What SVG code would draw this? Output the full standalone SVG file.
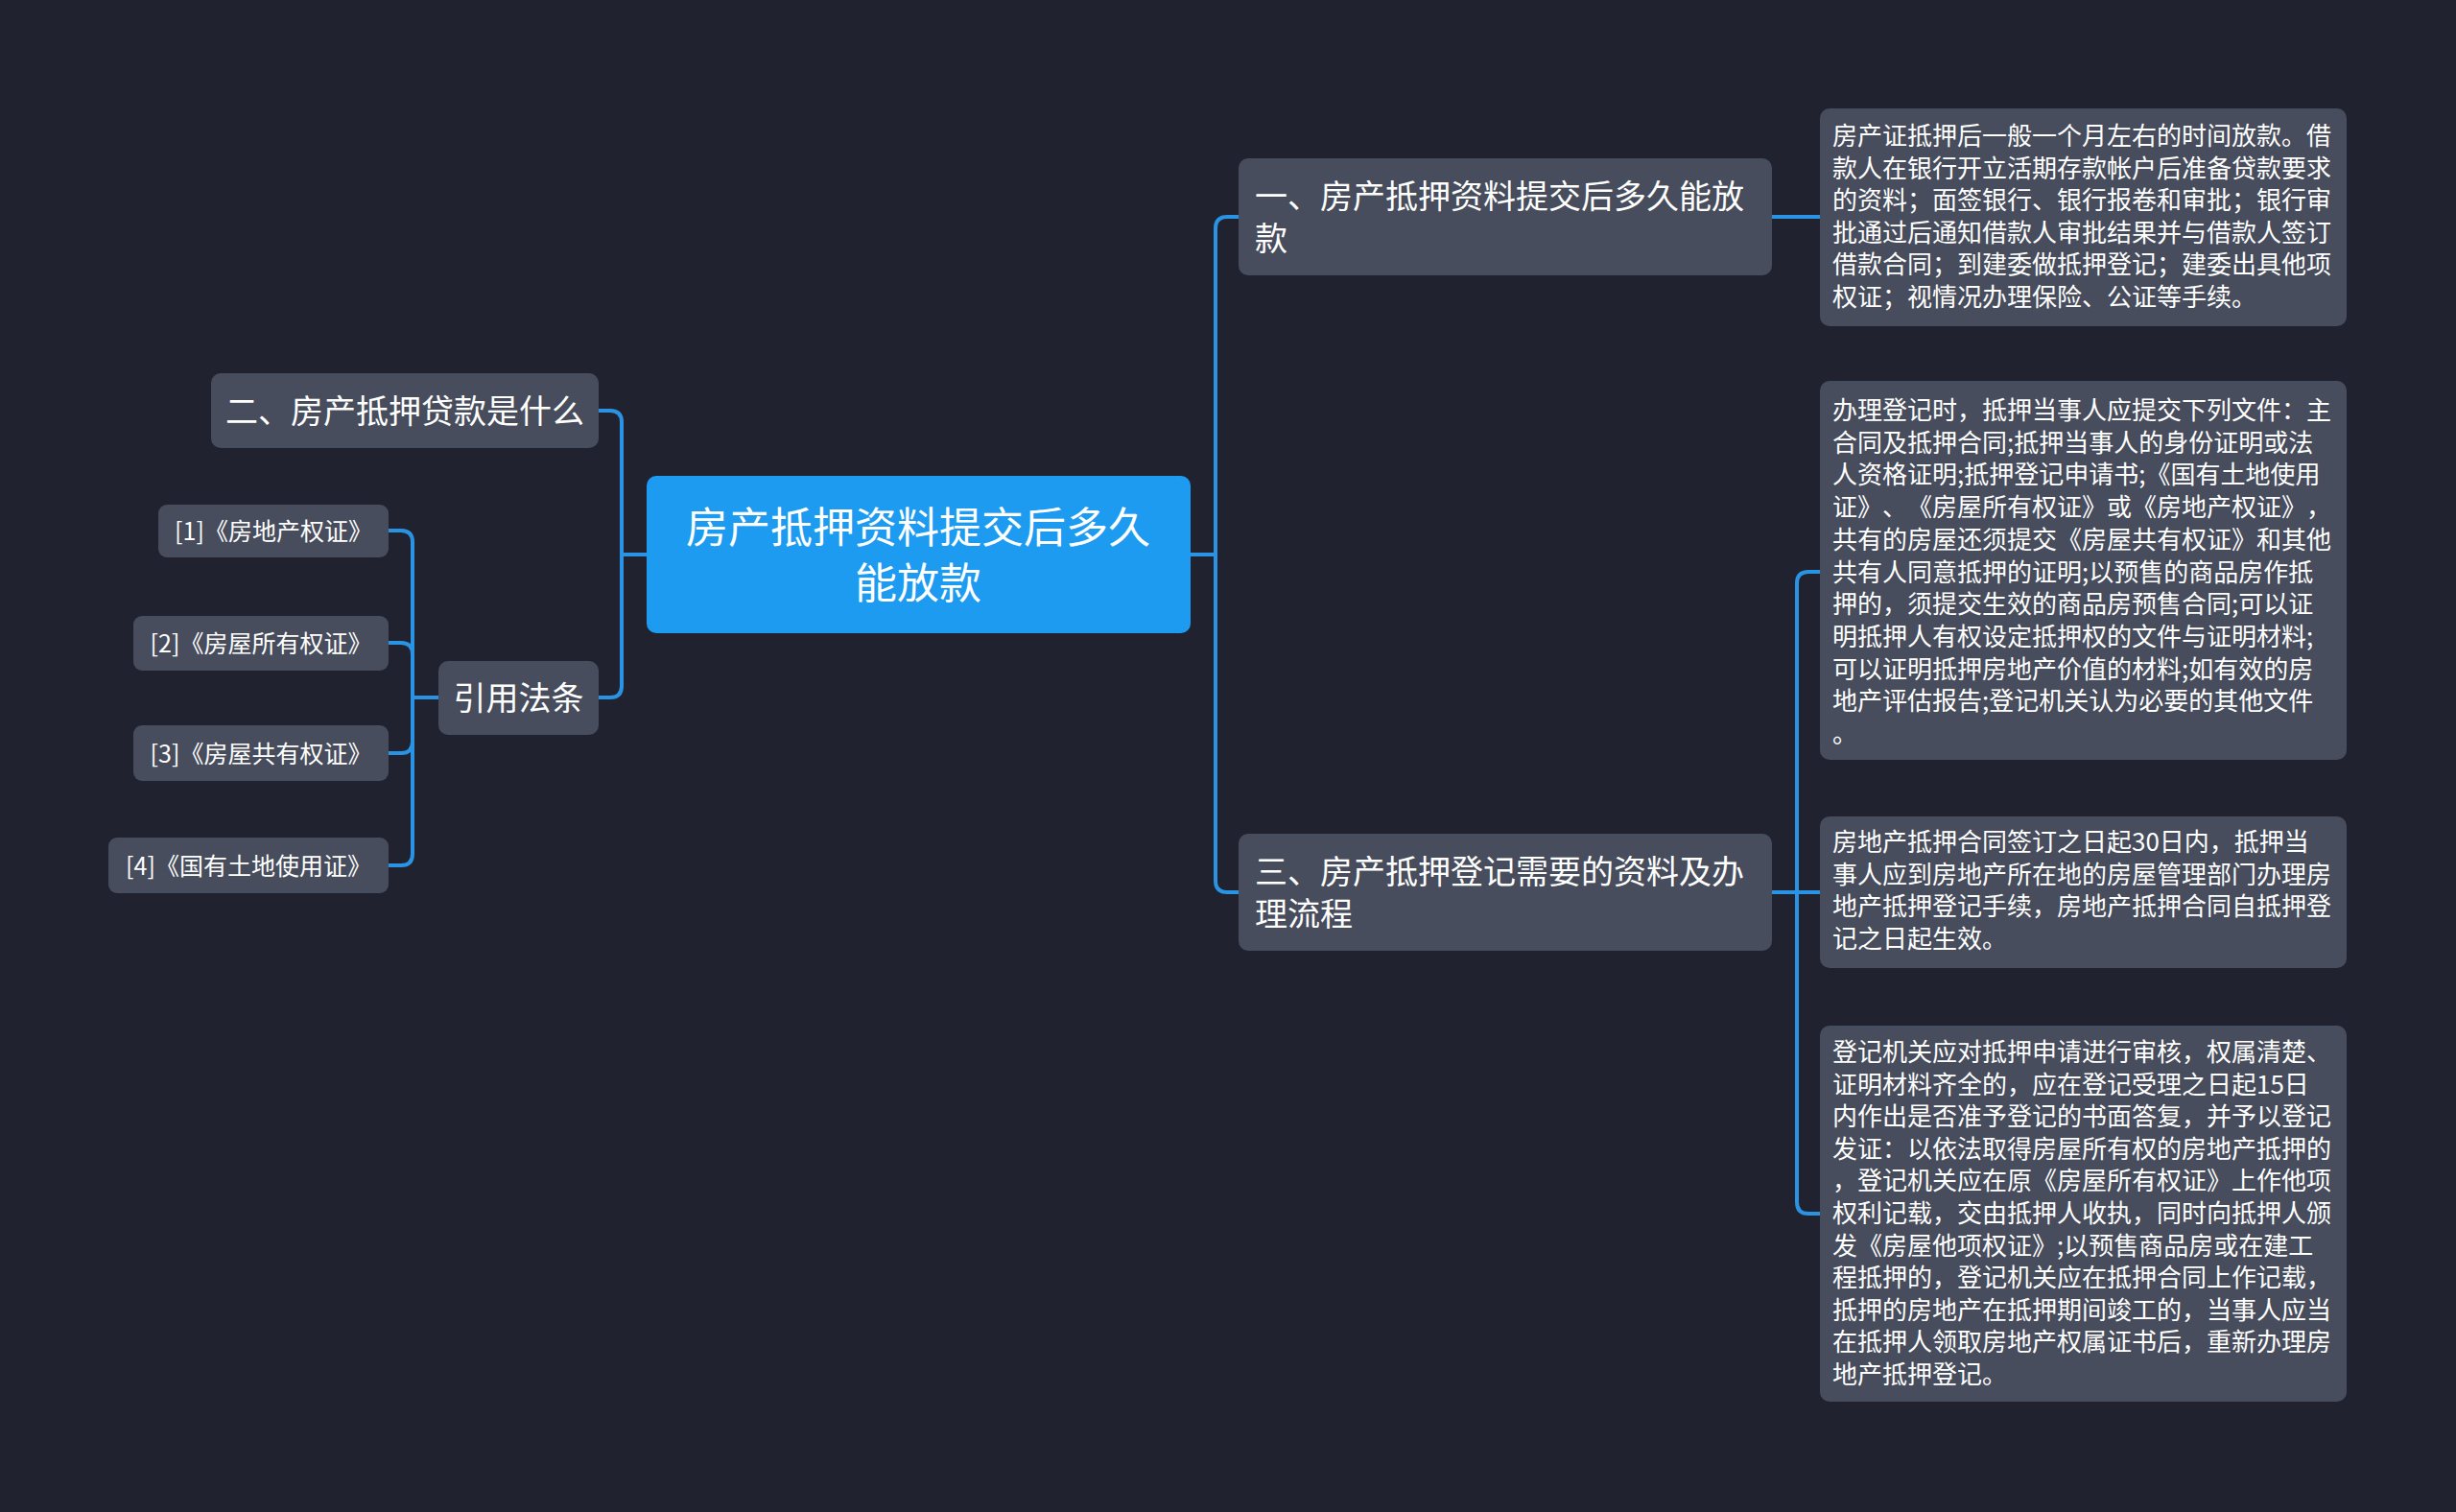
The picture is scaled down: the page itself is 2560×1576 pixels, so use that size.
<svg xmlns="http://www.w3.org/2000/svg" width="2560" height="1576" viewBox="0 0 2560 1576">
<style>
.bg{fill:#20232f}
.node{fill:#474d5c}
.root{fill:#1d9bf0}
.t{font-family:"Noto Sans CJK SC","Noto Sans",sans-serif;fill:#ffffff;text-spacing-trim:space-all}
.t25{font-size:25px}
.t26{font-size:26px}
.t34{font-size:34px}
.t44{font-size:44px}
.mid{text-anchor:middle}
.conn path{fill:none;stroke:#2a93e3;stroke-width:4;stroke-linecap:round}
</style>
<rect class="bg" x="0" y="0" width="2560" height="1576"/>

<g id="connectors" class="conn">
<path d="M1241 578 H1267"/>
<path d="M1291 226 H1279 Q1267 226 1267 238 V918 Q1267 930 1279 930 H1291"/>
<path d="M1847 226 H1897"/>
<path d="M1847 930 H1897"/>
<path d="M1897 596 H1885 Q1873 596 1873 608 V1253 Q1873 1265 1885 1265 H1897"/>
<path d="M674 578 H648"/>
<path d="M624 428 H636 Q648 428 648 440 V715 Q648 727 636 727 H624"/>
<path d="M457 727 H430"/>
<path d="M405 553 H418 Q430 553 430 565 V890 Q430 902 418 902 H405"/>
<path d="M405 670 H418 Q430 670 430 682"/>
<path d="M405 785 H418 Q430 785 430 773"/>
</g>

<g id="root">
<rect class="root" x="674" y="496" width="567" height="164" rx="10"/>
<text class="t t44 mid" x="957" y="566">房产抵押资料提交后多久</text>
<text class="t t44 mid" x="957" y="624">能放款</text>
</g>

<g id="n1">
<rect class="node" x="1291" y="165" width="556" height="122" rx="10"/>
<text class="t t34" x="1308" y="217">一、房产抵押资料提交后多久能放</text>
<text class="t t34" x="1308" y="261">款</text>
</g>

<g id="n3">
<rect class="node" x="1291" y="869" width="556" height="122" rx="10"/>
<text class="t t34" x="1308" y="921">三、房产抵押登记需要的资料及办</text>
<text class="t t34" x="1308" y="965">理流程</text>
</g>

<g id="leafA">
<rect class="node" x="1897" y="113" width="549" height="227" rx="10"/>
<text class="t t26" x="1910" y="151">房产证抵押后一般一个月左右的时间放款。借</text>
<text class="t t26" x="1910" y="184.6">款人在银行开立活期存款帐户后准备贷款要求</text>
<text class="t t26" x="1910" y="218.2">的资料；面签银行、银行报卷和审批；银行审</text>
<text class="t t26" x="1910" y="251.8">批通过后通知借款人审批结果并与借款人签订</text>
<text class="t t26" x="1910" y="285.4">借款合同；到建委做抵押登记；建委出具他项</text>
<text class="t t26" x="1910" y="319">权证；视情况办理保险、公证等手续。</text>
</g>

<g id="leafB">
<rect class="node" x="1897" y="397" width="549" height="395" rx="10"/>
<text class="t t26" x="1910" y="437">办理登记时，抵押当事人应提交下列文件：主</text>
<text class="t t26" x="1910" y="470.7">合同及抵押合同;抵押当事人的身份证明或法</text>
<text class="t t26" x="1910" y="504.4">人资格证明;抵押登记申请书;《国有土地使用</text>
<text class="t t26" x="1910" y="538.1">证》、《房屋所有权证》或《房地产权证》，</text>
<text class="t t26" x="1910" y="571.8">共有的房屋还须提交《房屋共有权证》和其他</text>
<text class="t t26" x="1910" y="605.5">共有人同意抵押的证明;以预售的商品房作抵</text>
<text class="t t26" x="1910" y="639.2">押的，须提交生效的商品房预售合同;可以证</text>
<text class="t t26" x="1910" y="672.9">明抵押人有权设定抵押权的文件与证明材料;</text>
<text class="t t26" x="1910" y="706.6">可以证明抵押房地产价值的材料;如有效的房</text>
<text class="t t26" x="1910" y="740.3">地产评估报告;登记机关认为必要的其他文件</text>
<text class="t t26" x="1910" y="774">。</text>
</g>

<g id="leafC">
<rect class="node" x="1897" y="851" width="549" height="158" rx="10"/>
<text class="t t26" x="1910" y="887">房地产抵押合同签订之日起30日内，抵押当</text>
<text class="t t26" x="1910" y="920.7">事人应到房地产所在地的房屋管理部门办理房</text>
<text class="t t26" x="1910" y="954.4">地产抵押登记手续，房地产抵押合同自抵押登</text>
<text class="t t26" x="1910" y="988">记之日起生效。</text>
</g>

<g id="leafD">
<rect class="node" x="1897" y="1069" width="549" height="392" rx="10"/>
<text class="t t26" x="1910" y="1106">登记机关应对抵押申请进行审核，权属清楚、</text>
<text class="t t26" x="1910" y="1139.6">证明材料齐全的，应在登记受理之日起15日</text>
<text class="t t26" x="1910" y="1173.2">内作出是否准予登记的书面答复，并予以登记</text>
<text class="t t26" x="1910" y="1206.8">发证：以依法取得房屋所有权的房地产抵押的</text>
<text class="t t26" x="1910" y="1240.4">，登记机关应在原《房屋所有权证》上作他项</text>
<text class="t t26" x="1910" y="1274">权利记载，交由抵押人收执，同时向抵押人颁</text>
<text class="t t26" x="1910" y="1307.6">发《房屋他项权证》;以预售商品房或在建工</text>
<text class="t t26" x="1910" y="1341.2">程抵押的，登记机关应在抵押合同上作记载，</text>
<text class="t t26" x="1910" y="1374.8">抵押的房地产在抵押期间竣工的，当事人应当</text>
<text class="t t26" x="1910" y="1408.4">在抵押人领取房地产权属证书后，重新办理房</text>
<text class="t t26" x="1910" y="1442">地产抵押登记。</text>
</g>

<g id="n2">
<rect class="node" x="220" y="389" width="404" height="78" rx="10"/>
<text class="t t34 mid" x="422" y="441">二、房产抵押贷款是什么</text>
</g>

<g id="cite">
<rect class="node" x="457" y="689" width="167" height="77" rx="10"/>
<text class="t t34 mid" x="540.5" y="740">引用法条</text>
</g>

<g id="c1">
<rect class="node" x="165" y="526" width="240" height="55" rx="9"/>
<text class="t t25 mid" x="285" y="562.5">[1]《房地产权证》</text>
</g>
<g id="c2">
<rect class="node" x="139" y="642" width="266" height="57" rx="9"/>
<text class="t t25 mid" x="272" y="679.5">[2]《房屋所有权证》</text>
</g>
<g id="c3">
<rect class="node" x="139" y="756" width="266" height="58" rx="9"/>
<text class="t t25 mid" x="272" y="794.5">[3]《房屋共有权证》</text>
</g>
<g id="c4">
<rect class="node" x="113" y="873" width="292" height="58" rx="9"/>
<text class="t t25 mid" x="259" y="911.5">[4]《国有土地使用证》</text>
</g>
</svg>
